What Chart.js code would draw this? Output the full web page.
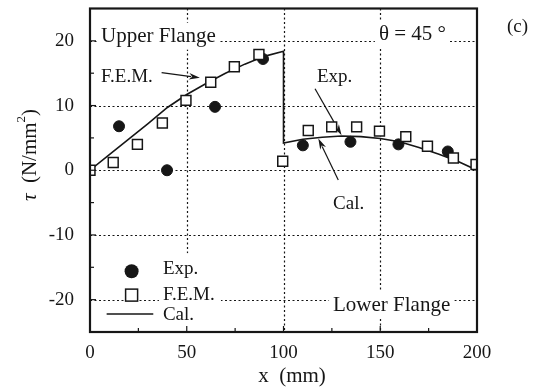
<!DOCTYPE html>
<html lang="en">
<head>
<meta charset="UTF-8">
<title>Shear stress distribution, theta = 45</title>
<script src="https://cdn.jsdelivr.net/npm/chart.js"></script>
<style>
    html, body { margin: 0; padding: 0; background: #fff; }
    #wrap { width: 539px; height: 392px; }
</style>
</head>
<body>
<div id="wrap"><canvas id="tauChart"></canvas></div>
<script>
// Cal. (analytical) curve, with the jump at x = 100
const calX = [0, 10, 20, 30, 40, 50, 60, 70, 80, 90, 100, 100, 110, 120, 130, 140, 150, 160, 170, 180, 190, 200];
const calY = [0, 2.4, 4.8, 7.2, 9.7, 11.7, 13.4, 15.0, 16.4, 17.6, 18.4, 4.2, 4.8, 5.1, 5.3, 5.2, 4.9, 4.4, 3.5, 2.5, 1.4, 0];

// F.E.M. results
const femX = [0, 12, 24.5, 37.4, 49.6, 62.4, 74.6, 87.3, 99.6, 112.8, 124.9, 137.8, 149.6, 163.2, 174.4, 187.8, 199.5];
const femY = [0, 1.2, 4.0, 7.3, 10.8, 13.6, 16.0, 17.9, 1.4, 6.15, 6.7, 6.7, 6.05, 5.2, 3.7, 1.9, 0.9];

// Exp. measurements
const expX = [15, 39.8, 64.6, 89.4, 110, 134.6, 159.4, 184.9];
const expY = [6.8, 0, 9.8, 17.2, 3.85, 4.4, 4.0, 2.9];

const xTicks = [0, 50, 100, 150, 200];
const yTicks = [-20, -10, 0, 10, 20];

const SERIF = '"Liberation Serif", "DejaVu Serif", serif';
const INK = '#161616';

// text notes placed in data units
const notes = [
    { text: 'Upper Flange', x: 5.7, y: 20.8, size: 21, bg: true },
    { text: '\u03b8 = 45 \u00b0', x: 149.3, y: 21.1, size: 21, bg: true },
    { text: '(c)', x: 215.5, y: 22.3, size: 19, bg: false },
    { text: 'F.E.M.', x: 5.7, y: 14.6, size: 19, bg: false },
    { text: 'Exp.', x: 117.3, y: 14.6, size: 19, bg: false },
    { text: 'Cal.', x: 125.6, y: -5.1, size: 19, bg: false },
    { text: 'Lower Flange', x: 125.6, y: -20.8, size: 21, bg: true }
];
const arrows = [
    { from: [37.0, 15.1], to: [56.8, 14.3] },
    { from: [116.3, 12.6], to: [130.0, 5.4] },
    { from: [128.3, -1.5], to: [118.0, 4.9] }
];

const toPts = (xs, ys) => xs.map((x, i) => ({ x: x, y: ys[i] }));

function arrow(ctx, x1, y1, x2, y2) {
    const a = Math.atan2(y2 - y1, x2 - x1);
    const len = 11, half = 3.2;
    ctx.beginPath();
    ctx.moveTo(x1, y1);
    ctx.lineTo(x2 - Math.cos(a) * len * 0.8, y2 - Math.sin(a) * len * 0.8);
    ctx.stroke();
    ctx.beginPath();
    ctx.moveTo(x2, y2);
    ctx.lineTo(x2 - Math.cos(a) * len - Math.sin(a) * half, y2 - Math.sin(a) * len + Math.cos(a) * half);
    ctx.lineTo(x2 - Math.cos(a) * len * 0.7, y2 - Math.sin(a) * len * 0.7);
    ctx.lineTo(x2 - Math.cos(a) * len + Math.sin(a) * half, y2 - Math.sin(a) * len - Math.cos(a) * half);
    ctx.closePath();
    ctx.fill();
}

const paper = {
    id: 'paper',
    beforeDatasetsDraw(chart) {
        const { ctx, chartArea: a, scales: { x, y } } = chart;
        ctx.save();

        // dotted grid
        ctx.strokeStyle = INK;
        ctx.lineWidth = 1.2;
        ctx.setLineDash([2, 2.5]);
        xTicks.slice(1, -1).forEach(v => {
            const X = Math.round(x.getPixelForValue(v)) + 0.5;
            ctx.beginPath(); ctx.moveTo(X, a.top); ctx.lineTo(X, a.bottom); ctx.stroke();
        });
        yTicks.forEach(v => {
            const Y = Math.round(y.getPixelForValue(v)) + 0.5;
            ctx.beginPath(); ctx.moveTo(a.left, Y); ctx.lineTo(a.right, Y); ctx.stroke();
        });
        ctx.setLineDash([]);

        // notes
        ctx.textBaseline = 'middle';
        ctx.textAlign = 'left';
        notes.forEach(n => {
            ctx.font = n.size + 'px ' + SERIF;
            const X = x.getPixelForValue(n.x), Y = y.getPixelForValue(n.y);
            if (n.bg) {
                const w = ctx.measureText(n.text).width;
                ctx.fillStyle = '#fff';
                ctx.fillRect(X - 4, Y - 13, w + 8, 27);
            }
            ctx.fillStyle = INK;
            ctx.fillText(n.text, X, Y + 1);
        });

        // arrows
        ctx.strokeStyle = INK;
        ctx.fillStyle = INK;
        ctx.lineWidth = 1.2;
        arrows.forEach(r => {
            arrow(ctx, x.getPixelForValue(r.from[0]), y.getPixelForValue(r.from[1]),
                x.getPixelForValue(r.to[0]), y.getPixelForValue(r.to[1]));
        });

        // legend (bottom left)
        const lx = x.getPixelForValue(21.5);
        const tx = x.getPixelForValue(37.7);
        const rows = [y.getPixelForValue(-15.6), y.getPixelForValue(-19.3), y.getPixelForValue(-22.2)];
        ctx.fillStyle = '#fff';
        ctx.fillRect(tx - 4, rows[0] - 18, 62, a.bottom - rows[0] + 16);
        ctx.font = '19px ' + SERIF;
        ctx.fillStyle = INK;
        ctx.fillText('Exp.', tx, rows[0] - 2);
        ctx.fillText('F.E.M.', tx, rows[1]);
        ctx.fillText('Cal.', tx, rows[2] + 1);
        ctx.beginPath();
        ctx.arc(lx, rows[0], 7, 0, Math.PI * 2);
        ctx.fill();
        ctx.fillStyle = '#fff';
        ctx.lineWidth = 1.5;
        ctx.fillRect(lx - 6, rows[1] - 6, 12, 12);
        ctx.strokeRect(lx - 6, rows[1] - 6, 12, 12);
        ctx.beginPath();
        ctx.moveTo(x.getPixelForValue(8.6), rows[2]);
        ctx.lineTo(x.getPixelForValue(32.7), rows[2]);
        ctx.stroke();

        ctx.restore();
    },
    afterDatasetsDraw(chart) {
        const { ctx, chartArea: a, scales: { x, y } } = chart;
        ctx.save();
        ctx.strokeStyle = INK;

        // inward ticks
        ctx.lineWidth = 1.2;
        for (let v = 25; v < 200; v += 25) {
            const X = x.getPixelForValue(v);
            const len = v % 50 === 0 ? 6 : 4;
            ctx.beginPath(); ctx.moveTo(X, a.bottom); ctx.lineTo(X, a.bottom - len); ctx.stroke();
        }
        for (let v = -20; v <= 20; v += 5) {
            const Y = y.getPixelForValue(v);
            const len = v % 10 === 0 ? 6 : 4;
            ctx.beginPath(); ctx.moveTo(a.left, Y); ctx.lineTo(a.left + len, Y); ctx.stroke();
        }

        // frame
        ctx.lineWidth = 2.2;
        ctx.strokeRect(a.left, a.top, a.right - a.left, a.bottom - a.top);

        // axis titles
        ctx.fillStyle = INK;
        ctx.textBaseline = 'middle';
        ctx.textAlign = 'center';
        ctx.font = '21px ' + SERIF;
        ctx.fillText('x  (mm)', 292, 376);

        ctx.translate(30, 155);
        ctx.rotate(-Math.PI / 2);
        const parts = [
            { t: '\u03c4', f: 'italic 21px ' + SERIF, dy: 0 },
            { t: '  (N/mm', f: '21px ' + SERIF, dy: 0 },
            { t: '2', f: '13px ' + SERIF, dy: -8 },
            { t: ')', f: '21px ' + SERIF, dy: 0 }
        ];
        let total = 0;
        parts.forEach(p => { ctx.font = p.f; p.w = ctx.measureText(p.t).width; total += p.w; });
        let cur = -total / 2;
        ctx.textAlign = 'left';
        parts.forEach(p => { ctx.font = p.f; ctx.fillText(p.t, cur, p.dy); cur += p.w; });

        ctx.restore();
    }
};

new Chart(document.getElementById('tauChart'), {
    type: 'scatter',
    data: {
        datasets: [
            {
                label: 'F.E.M.',
                data: toPts(femX, femY),
                pointStyle: 'rect',
                pointRadius: 7,
                backgroundColor: '#fff',
                borderColor: INK,
                borderWidth: 1.5,
                order: 1
            },
            {
                label: 'Exp.',
                data: toPts(expX, expY),
                pointStyle: 'circle',
                pointRadius: 5.5,
                backgroundColor: INK,
                borderColor: INK,
                borderWidth: 1,
                order: 2
            },
            {
                label: 'Cal.',
                data: toPts(calX, calY),
                showLine: true,
                pointRadius: 0,
                borderColor: INK,
                borderWidth: 1.6,
                tension: 0,
                order: 3
            }
        ]
    },
    options: {
        responsive: true,
        maintainAspectRatio: false,
        animation: false,
        devicePixelRatio: 1,
        layout: { padding: { top: 8, right: 62, left: 0, bottom: 0 } },
        plugins: { legend: { display: false }, tooltip: { enabled: false } },
        scales: {
            x: {
                type: 'linear',
                min: 0, max: 200,
                grid: { display: false },
                border: { display: false },
                ticks: {
                    stepSize: 25, autoSkip: false, maxRotation: 0, padding: 2,
                    color: INK, font: { family: SERIF, size: 19 },
                    callback: v => (v % 50 === 0 ? v : '')
                },
                afterFit: s => { s.height = 60; s.paddingLeft = 0; s.paddingRight = 0; }
            },
            y: {
                min: -25, max: 25,
                grid: { display: false },
                border: { display: false },
                ticks: {
                    stepSize: 5, autoSkip: false, padding: 8,
                    color: INK, font: { family: SERIF, size: 19 },
                    callback: v => (v % 10 === 0 ? v : '')
                },
                afterFit: s => { s.width = 90; s.paddingTop = 0; s.paddingBottom = 0; }
            }
        }
    },
    plugins: [paper]
});
</script>
</body>
</html>
